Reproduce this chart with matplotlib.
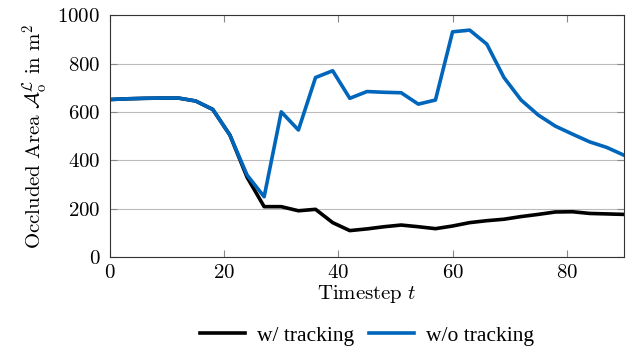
import numpy as np
import matplotlib.pyplot as plt

plt.rcParams['mathtext.fontset'] = 'cm'
plt.rcParams['font.family'] = 'cmr10'
plt.rcParams['axes.formatter.use_mathtext'] = True

# timesteps
t = [0, 3, 6, 9, 12, 15, 18, 21, 24, 27, 30, 33, 36, 39, 42, 45,
     48, 51, 54, 57, 60, 63, 66, 69, 72, 75, 78, 81, 84, 87, 90]
# w/ tracking
with_tracking = [651, 654, 656, 657, 657, 645, 610, 504, 330, 208, 208, 191, 197, 142, 109, 116,
                 125, 132, 125, 117, 128, 142, 150, 156, 167, 176, 186, 187, 180, 178, 176]
# w/o tracking
without_tracking = [651, 654, 656, 657, 657, 645, 610, 504, 339, 249, 600, 525, 742, 770, 656, 684,
                    681, 679, 632, 649, 931, 938, 880, 742, 649, 587, 541, 508, 476, 453, 421]

fig = plt.figure(figsize=(6.34, 3.52), dpi=100)
ax = fig.add_axes([0.1735, 0.27, 0.8105, 0.687])

ax.plot(t, with_tracking, color='black', lw=2.6, label='w/ tracking')
ax.plot(t, without_tracking, color='#0066bb', lw=2.6, label='w/o tracking')

ax.set_xlim(0, 90)
ax.set_ylim(0, 1000)
ax.set_xticks([0, 20, 40, 60, 80])
ax.set_yticks([0, 200, 400, 600, 800, 1000])
ax.yaxis.grid(True, color='#bbbbbb', lw=0.8)
ax.set_axisbelow(True)
ax.tick_params(direction='in', top=True, right=True, color='#888888', length=5, labelsize=15)
ax.tick_params(axis='y', pad=7)
ax.tick_params(axis='x', pad=5)
for s in ax.spines.values():
    s.set_color('#333333')
    s.set_linewidth(0.8)

ax.set_xlabel(r'$\mathrm{Timestep}\ t$', fontsize=15, labelpad=1)
ax.set_ylabel(r'$\mathrm{Occluded\ Area}\ \mathcal{A}_\mathrm{o}^\mathcal{L}\ \mathrm{in\ m}^2$', fontsize=15, labelpad=6)

ax.legend(loc='center', bbox_to_anchor=(0.5, -0.325), ncol=2, frameon=False,
          prop={'family': 'Liberation Serif', 'size': 15.5}, handlelength=2.1,
          handletextpad=0.55, columnspacing=0.7, borderpad=0)

fig.savefig('out.png', dpi=100)
